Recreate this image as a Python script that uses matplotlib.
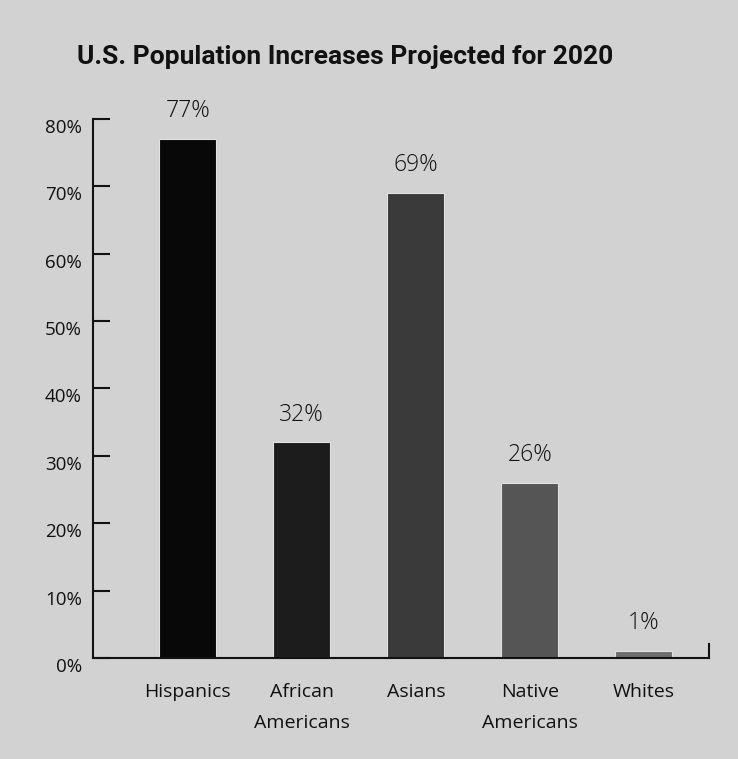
import matplotlib

matplotlib.use("Agg")
import matplotlib.pyplot as plt
from matplotlib.transforms import ScaledTranslation

plt.rcParams["font.family"] = ["Open Sans", "DejaVu Sans"]

categories = ["Hispanics", "African\nAmericans", "Asians", "Native\nAmericans", "Whites"]
increase = [77, 32, 69, 26, 1]
value_labels = ["77%", "32%", "69%", "26%", "1%"]
y_ticks = [0, 10, 20, 30, 40, 50, 60, 70, 80]
y_tick_labels = ["0%", "10%", "20%", "30%", "40%", "50%", "60%", "70%", "80%"]

BG = "#d2d2d2"
BAR_COLORS = ["#080808", "#1c1c1c", "#3a3a3a", "#555555", "#6e6e6e"]

fig = plt.figure(figsize=(7.38, 7.59), dpi=100, facecolor=BG)
ax = fig.add_axes([0.126, 0.1331, 0.8347, 0.7101])
ax.set_facecolor(BG)

x = range(len(categories))
ax.bar(x, increase, width=0.5, color=BAR_COLORS, edgecolor="#e2e2e2", linewidth=0.8)
for xi, v, lab in zip(x, increase, value_labels):
    ax.annotate(lab, (xi, v), xytext=(0, 20), textcoords="offset points",
                ha="center", va="center", fontsize=16.5, fontweight="light",
                color="#111111")

ax.set_xlim(-0.83, 4.57)
ax.set_ylim(0, 80)
ax.set_yticks(y_ticks)
ax.set_yticklabels(y_tick_labels, fontsize=13.5, color="#111111")
ax.set_xticks(list(x))
ax.set_xticklabels(categories, fontsize=14, color="#111111", linespacing=1.9)

for s in ("top", "right"):
    ax.spines[s].set_visible(False)
for s in ("left", "bottom"):
    ax.spines[s].set_linewidth(1.5)
    ax.spines[s].set_color("#111111")
ax.tick_params(axis="y", direction="in", length=12, width=1.5, pad=8, color="#111111")
ax.tick_params(axis="x", length=0, pad=18)

# tick labels sit a little below their tick marks in the original
shift = ScaledTranslation(0, -7 / 100, fig.dpi_scale_trans)
for lab in ax.get_yticklabels():
    lab.set_transform(lab.get_transform() + shift)

# small upturned end on the baseline
ax.plot([1, 1], [0, 0.026], transform=ax.transAxes, color="#111111",
        lw=1.5, clip_on=False)

fig.text(77 / 738, 1 - 57 / 759, "U.S. Population Increases Projected for 2020",
         ha="left", va="center", fontsize=19, fontweight="bold", color="#111111",
         family=["Roboto", "DejaVu Sans"])

fig.savefig("out.png", dpi=100, facecolor=BG)
